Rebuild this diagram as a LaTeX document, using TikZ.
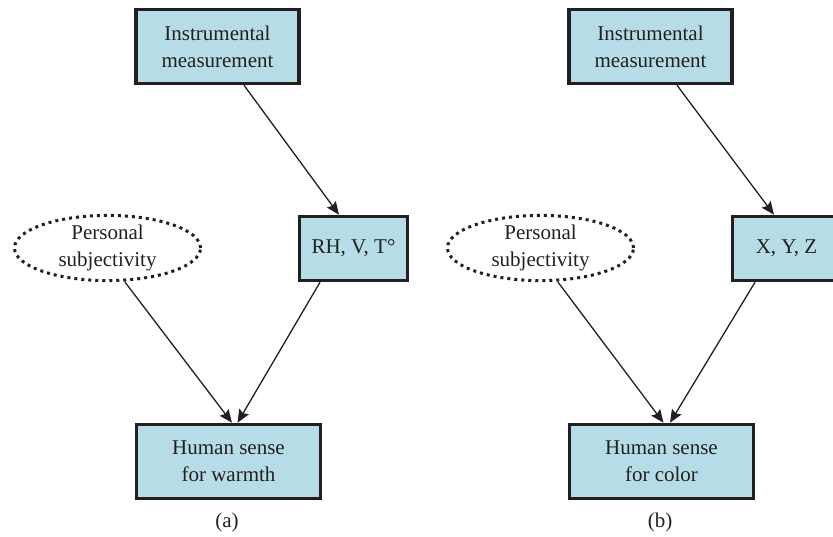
\documentclass[tikz,border=0pt]{standalone}
\usepackage{fontspec}
\setmainfont{Liberation Serif}
\usetikzlibrary{shapes.geometric,arrows.meta}
\definecolor{boxfill}{HTML}{B6DDE7}
\definecolor{ink}{HTML}{231F20}

\begin{document}
\begin{tikzpicture}[x=1pt,y=-1pt,
  every node/.style={text=ink, font=\fontsize{21}{27}\selectfont},
  block/.style={draw=ink, fill=boxfill, line width=3.5pt, inner sep=0pt, align=center},
  wide/.style={minimum width=163pt, minimum height=74pt},
  widest/.style={minimum width=184pt, minimum height=74pt},
  small/.style={minimum width=108pt, minimum height=64pt},
  cloud/.style={ellipse, draw=ink, line width=3pt, dash pattern=on 3pt off 4pt,
    inner sep=0pt, align=center, minimum width=186pt, minimum height=65pt},
  link/.style={draw=ink, line width=1.3pt, -{Stealth[length=13pt,width=11pt,inset=2pt]}}]
\clip (0,0) rectangle (833,537);

% panel (a): warmth
\node[block, wide]   (im1) at (217.5,46.5) {Instrumental\\measurement};
\node[block, small]  (rh)  at (353.5,248.5) {RH, V, T°};
\node[cloud]         (ps1) at (107.5,248) {Personal\\subjectivity};
\node[block, widest] (hw)  at (228.5,461.5) {Human sense\\for warmth};
\node (capa) at (227,522) {(a)};

\draw[link] ([xshift=26.5pt]im1.south) -- ([xshift=-14.5pt]rh.north);
\draw[link] ([xshift=17.5pt]ps1.south) -- ([xshift=3.5pt]hw.north);
\draw[link] ([xshift=-33.5pt]rh.south) -- ([xshift=9pt]hw.north);

% panel (b): color
\node[block, wide]   (im2) at (650.5,46.5) {Instrumental\\measurement};
\node[block, small]  (xyz) at (786.5,248.5) {X, Y, Z};
\node[cloud]         (ps2) at (540.5,248) {Personal\\subjectivity};
\node[block, widest] (hc)  at (661.5,461.5) {Human sense\\for color};
\node (capb) at (660,522) {(b)};

\draw[link] ([xshift=26.5pt]im2.south) -- ([xshift=-12.5pt]xyz.north);
\draw[link] ([xshift=17.5pt]ps2.south) -- ([xshift=2pt]hc.north);
\draw[link] ([xshift=-31.5pt]xyz.south) -- ([xshift=8.5pt]hc.north);
\end{tikzpicture}
\end{document}
